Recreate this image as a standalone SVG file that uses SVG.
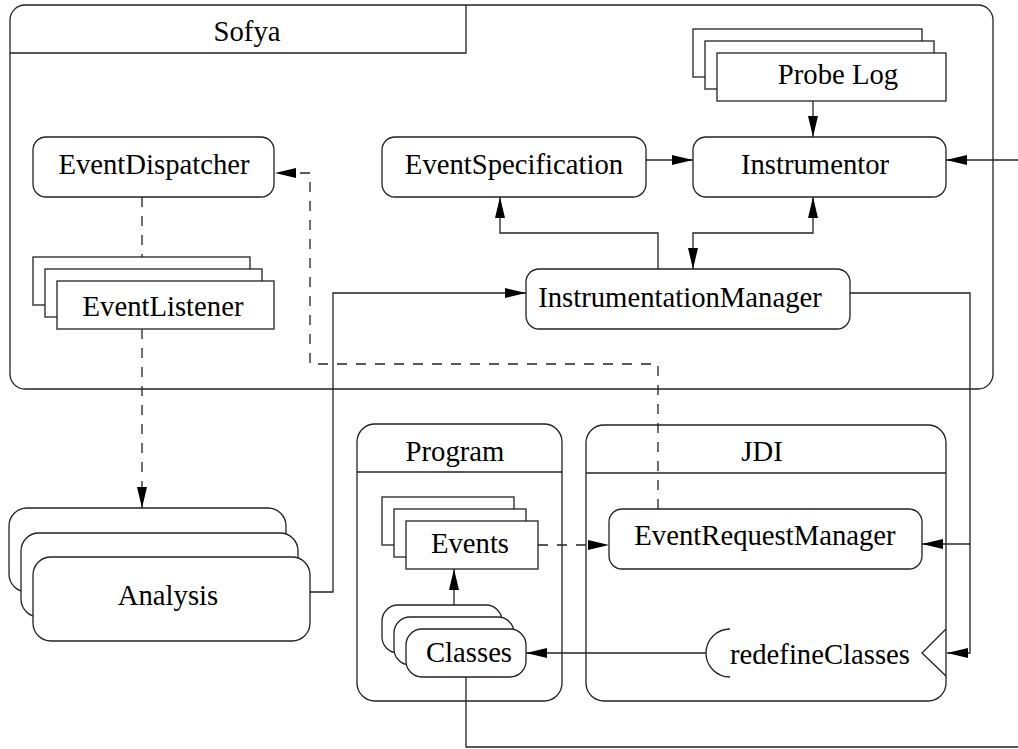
<svg xmlns="http://www.w3.org/2000/svg" width="1018" height="749" viewBox="0 0 1018 749">
<style>
.s{fill:#fff;stroke:#222;stroke-width:1.3}
.n{fill:none;stroke:#222;stroke-width:1.3}
.d{fill:none;stroke:#222;stroke-width:1.3;stroke-dasharray:10,9}
text{font-family:"Liberation Serif","Times New Roman",serif;font-size:28.7px;fill:#000;text-anchor:middle}
</style>
<defs>
<marker id="a" markerUnits="userSpaceOnUse" markerWidth="22" markerHeight="12" refX="21" refY="5" orient="auto-start-reverse" viewBox="0 0 22 10">
<path d="M0,0 L21,5 L0,10 Z" fill="#000"/>
</marker>
</defs>
<rect width="1018" height="749" fill="#fff"/>
<g id="sofya">
<rect class="n" x="10" y="5" width="983" height="384" rx="15"/>
<path class="n" d="M10,53 H466 V5"/>
<text x="247" y="41">Sofya</text>
</g>
<g id="program">
<rect class="n" x="357" y="424" width="205" height="277" rx="18"/>
<path class="n" d="M357,472 H562"/>
<text x="455" y="461">Program</text>
</g>
<g id="jdi">
<rect class="n" x="586" y="425" width="360" height="276" rx="18"/>
<path class="n" d="M586,473 H946"/>
<text x="762" y="461">JDI</text>
</g>
<g id="connectors">
<path class="d" d="M142,197 V257"/>
<path class="d" d="M142,329 V508" marker-end="url(#a)"/>
<path class="d" d="M658,509 V364 H310 V173 H275" marker-end="url(#a)"/>
<path class="d" d="M538,545 H609" marker-end="url(#a)"/>
<path class="n" d="M454,605 V569" marker-end="url(#a)"/>
<path class="n" d="M706,653 H526" marker-end="url(#a)"/>
<path class="n" d="M466,677 V747 H1018"/>
<path class="n" d="M310,592 H333 V293 H526" marker-end="url(#a)"/>
<path class="n" d="M850,293 H970 V653 H947" marker-end="url(#a)"/>
<path class="n" d="M970,544 H922" marker-end="url(#a)"/>
<path class="n" d="M658,269 V233 H500 V197" marker-end="url(#a)"/>
<path class="n" d="M693,269 V233 H813 V197" marker-start="url(#a)" marker-end="url(#a)"/>
<path class="n" d="M646,160 H693" marker-end="url(#a)"/>
<path class="n" d="M1018,160 H946" marker-end="url(#a)"/>
<path class="n" d="M813,101 V137" marker-end="url(#a)"/>
</g>
<g id="eventDispatcher">
<rect class="s" x="33" y="137" width="241" height="60" rx="13"/>
<text x="154" y="174">EventDispatcher</text>
</g>
<g id="eventSpecification">
<rect class="s" x="382" y="137" width="264" height="60" rx="13"/>
<text x="514" y="174">EventSpecification</text>
</g>
<g id="instrumentor">
<rect class="s" x="693" y="137" width="253" height="60" rx="13"/>
<text x="815" y="174">Instrumentor</text>
</g>
<g id="probeLog">
<rect class="s" x="693" y="29" width="229" height="48"/>
<rect class="s" x="705" y="41" width="229" height="48"/>
<rect class="s" x="717" y="53" width="229" height="48"/>
<text x="838" y="84">Probe Log</text>
</g>
<g id="instrumentationManager">
<rect class="s" x="526" y="269" width="324" height="60" rx="13"/>
<text x="680" y="307">InstrumentationManager</text>
</g>
<g id="eventListener">
<rect class="s" x="33" y="257" width="217" height="48"/>
<rect class="s" x="45" y="269" width="217" height="48"/>
<rect class="s" x="57" y="281" width="217" height="48"/>
<text x="163" y="316">EventListener</text>
</g>
<g id="analysis">
<rect class="s" x="9" y="508" width="277" height="84" rx="18"/>
<rect class="s" x="21" y="533" width="277" height="84" rx="18"/>
<rect class="s" x="33" y="557" width="277" height="84" rx="18"/>
<text x="168" y="605">Analysis</text>
</g>
<g id="events">
<rect class="s" x="382" y="497" width="132" height="48"/>
<rect class="s" x="394" y="509" width="132" height="48"/>
<rect class="s" x="406" y="521" width="132" height="48"/>
<text x="470" y="553">Events</text>
</g>
<g id="classes">
<rect class="s" x="382" y="605" width="120" height="48" rx="16"/>
<rect class="s" x="394" y="617" width="120" height="48" rx="16"/>
<rect class="s" x="406" y="629" width="120" height="48" rx="16"/>
<text x="469" y="662">Classes</text>
</g>
<g id="eventRequestManager">
<rect class="s" x="609" y="509" width="313" height="60" rx="13"/>
<text x="765" y="545">EventRequestManager</text>
</g>
<g id="redefineClasses">
<path class="n" d="M730,629 A24,24 0 0 0 730,677"/>
<polyline class="n" points="946,629 922,653 946,676"/>
<text x="820" y="664">redefineClasses</text>
</g>
</svg>
